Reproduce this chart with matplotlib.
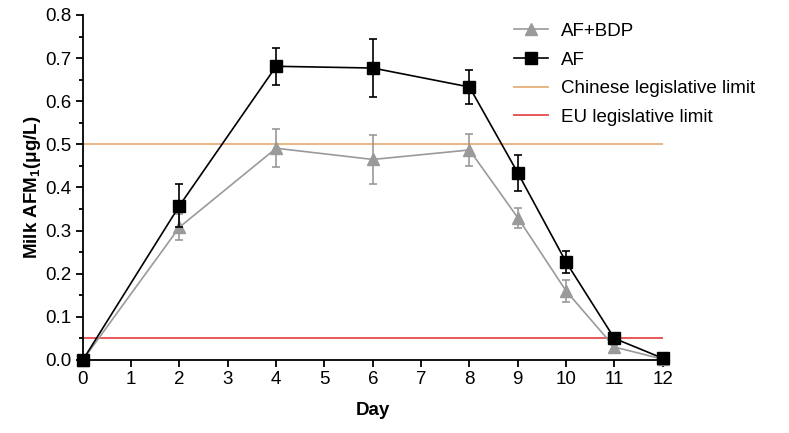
import numpy as np
import matplotlib
matplotlib.use("Agg")
from matplotlib import pyplot as plt
from matplotlib.lines import Line2D
from matplotlib.ticker import MultipleLocator

plt.rcParams['font.family'] = ['Liberation Sans', 'DejaVu Sans']
plt.rcParams['mathtext.fontset'] = 'custom'
plt.rcParams['mathtext.rm'] = 'Liberation Sans'
plt.rcParams['mathtext.bf'] = 'Liberation Sans:bold'

# data
days = [0, 2, 4, 6, 8, 9, 10, 11, 12]
af = [0.0, 0.358, 0.681, 0.677, 0.633, 0.434, 0.227, 0.050, 0.004]
af_err = [0.0, 0.050, 0.043, 0.068, 0.039, 0.041, 0.026, 0.005, 0.002]
bdp = [0.0, 0.308, 0.491, 0.465, 0.487, 0.330, 0.160, 0.030, 0.002]
bdp_err = [0.0, 0.030, 0.044, 0.056, 0.037, 0.023, 0.026, 0.004, 0.001]
cn_limit = 0.5
eu_limit = 0.05

grey = '#9A9A9A'
orange = '#E9B482'
red = '#E8585A'

fig = plt.figure(figsize=(7.89, 4.33), dpi=100)
ax = fig.add_axes([0.105, 0.1686, 0.735, 0.7968])

ax.plot([0, 12], [cn_limit, cn_limit], color=orange, lw=1.4, zorder=1)
ax.plot([0, 12], [eu_limit, eu_limit], color=red, lw=1.4, zorder=1)

ax.errorbar(days, bdp, yerr=bdp_err, color=grey, marker='^', ms=8.5,
            lw=1.2, capsize=3, capthick=1.2, elinewidth=1.2,
            clip_on=False, zorder=3)
ax.errorbar(days, af, yerr=af_err, color='black', marker='s', ms=8.5,
            lw=1.2, capsize=3, capthick=1.2, elinewidth=1.2,
            clip_on=False, zorder=4)

ax.set_xlim(0, 12)
ax.set_ylim(0, 0.8)
ax.xaxis.set_major_locator(MultipleLocator(1))
ax.yaxis.set_major_locator(MultipleLocator(0.1))
ax.yaxis.set_minor_locator(MultipleLocator(0.05))
ax.yaxis.set_major_formatter(plt.FormatStrFormatter('%.1f'))
ax.spines['top'].set_visible(False)
ax.spines['right'].set_visible(False)
for s in ['left', 'bottom']:
    ax.spines[s].set_linewidth(1.3)
ax.tick_params(which='major', length=5, width=1.3, labelsize=13.5, pad=3)
ax.tick_params(which='minor', length=3, width=1.3)

ax.set_xlabel('Day', fontsize=13.5, fontweight='bold', labelpad=10)
ax.set_ylabel(r'Milk AFM$_\mathbf{1}$(μg/L)', fontsize=13.5,
              fontweight='bold', labelpad=2)

handles = [
    Line2D([], [], color=grey, marker='^', ms=8.5, lw=1.2),
    Line2D([], [], color='black', marker='s', ms=8.5, lw=1.2),
    Line2D([], [], color=orange, lw=1.4),
    Line2D([], [], color=red, lw=1.4),
]
labels = ['AF+BDP', 'AF', 'Chinese legislative limit', 'EU legislative limit']
ax.legend(handles, labels,
          loc='upper left', bbox_to_anchor=(0.642, 0.965),
          bbox_transform=fig.transFigure, frameon=False, fontsize=13.5,
          handlelength=1.8, handletextpad=0.7, labelspacing=0.62,
          borderaxespad=0)

fig.savefig('out.png', dpi=100)
